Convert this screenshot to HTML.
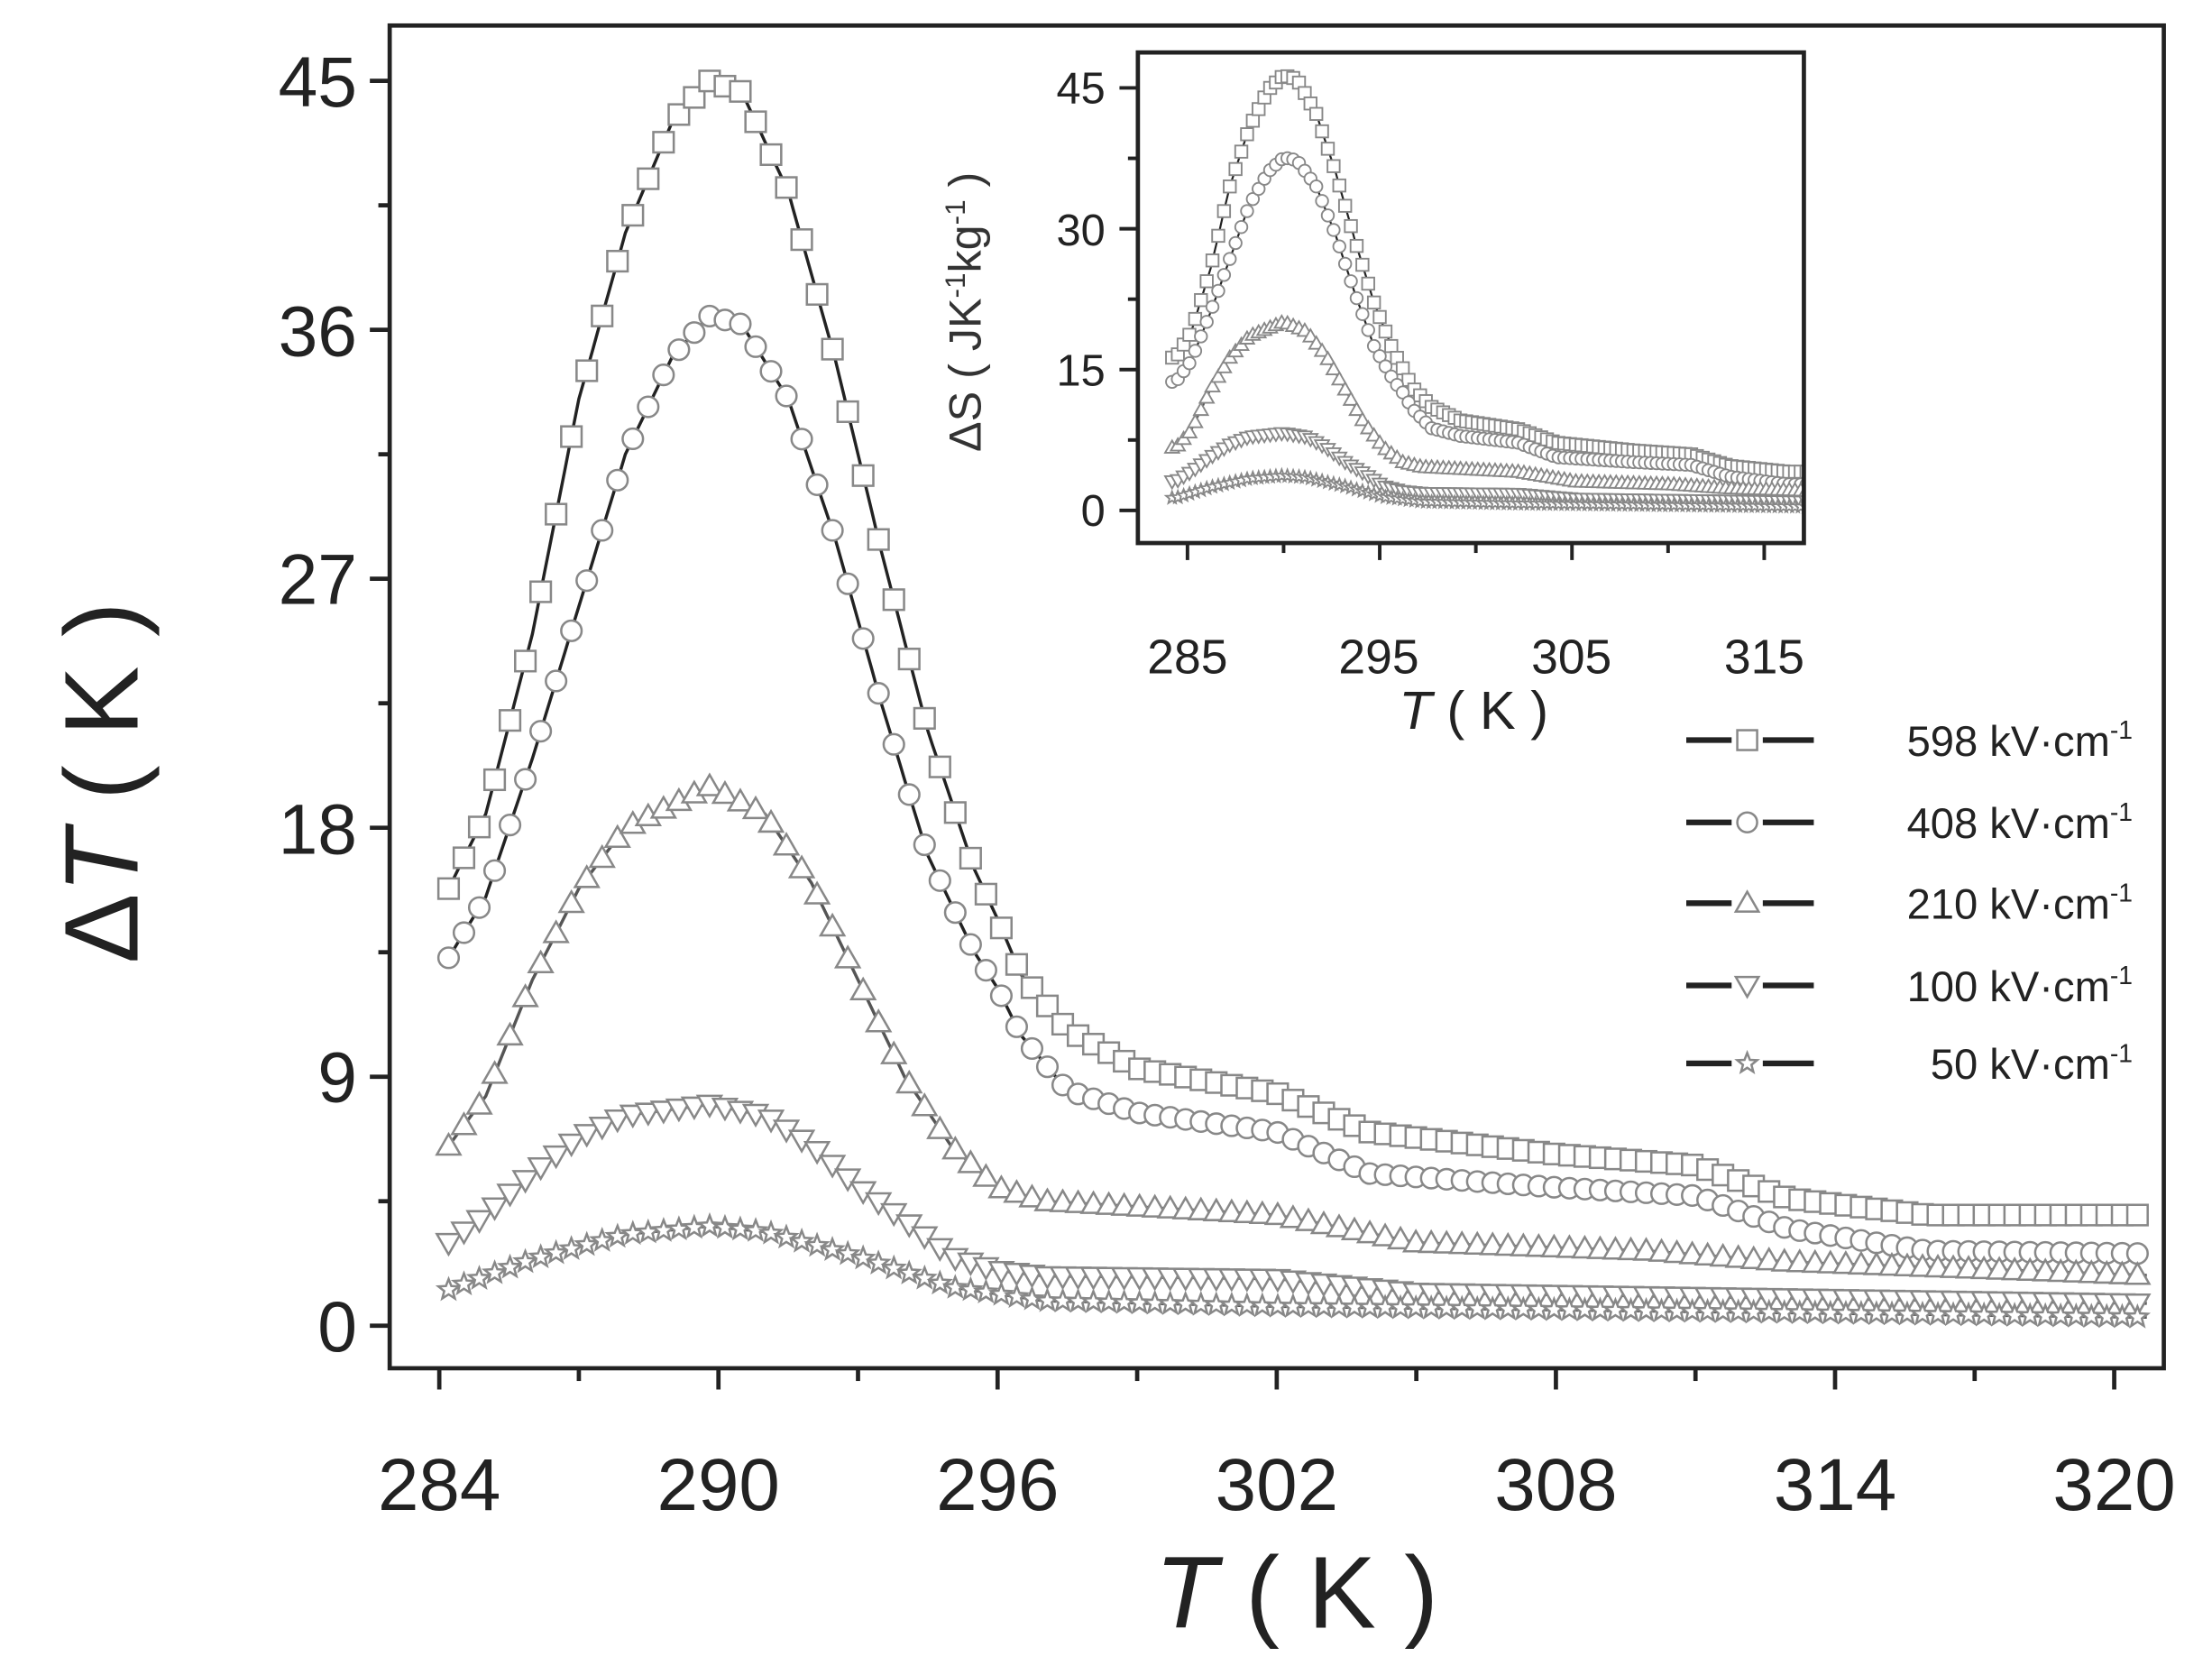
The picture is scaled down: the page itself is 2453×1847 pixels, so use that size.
<!DOCTYPE html>
<html><head><meta charset="utf-8"><style>
html,body{margin:0;padding:0;background:#fff;}
svg{display:block;}
text{font-family:"Liberation Sans",Arial,sans-serif;}
</style></head><body>
<svg id="s" xmlns="http://www.w3.org/2000/svg" width="2453" height="1847" viewBox="0 0 1561 1175" preserveAspectRatio="none">
<rect x="0" y="0" width="1561" height="1175" fill="#fff"/>
<g id="main"></g>
<rect x="275" y="18" width="1252" height="947" fill="none" stroke="#222" stroke-width="3"/>
<g font-size="50" fill="#222" text-anchor="end">
<text x="252" y="75">45</text><text x="252" y="251">36</text><text x="252" y="426">27</text>
<text x="252" y="602">18</text><text x="252" y="777">9</text><text x="252" y="953">0</text>
</g>
<g font-size="52" fill="#222" text-anchor="middle">
<text x="310" y="1065">284</text><text x="507" y="1065">290</text><text x="704" y="1065">296</text>
<text x="901" y="1065">302</text><text x="1098" y="1065">308</text><text x="1295" y="1065">314</text><text x="1492" y="1065">320</text>
</g>
<text x="915" y="1148" font-size="72" fill="#222" text-anchor="middle"><tspan font-style="italic">T</tspan> ( K )</text>
<text transform="translate(97,552) rotate(-90)" font-size="74" fill="#222" text-anchor="middle">Δ<tspan font-style="italic">T</tspan> ( K )</text>
<rect x="803" y="37" width="470" height="346" fill="#fff"/>
<g id="inset"></g>
<rect x="803" y="37" width="470" height="346" fill="none" stroke="#222" stroke-width="3"/>
<g font-size="31" fill="#222" text-anchor="end">
<text x="780" y="73">45</text><text x="780" y="173">30</text><text x="780" y="272">15</text><text x="780" y="371">0</text>
</g>
<g font-size="34" fill="#222" text-anchor="middle">
<text x="838" y="475">285</text><text x="973" y="475">295</text><text x="1109" y="475">305</text><text x="1245" y="475">315</text>
</g>
<text x="1040" y="514" font-size="38" fill="#222" text-anchor="middle"><tspan font-style="italic">T</tspan> ( K )</text>
<text transform="translate(692,220) rotate(-90)" font-size="32" fill="#333" text-anchor="middle">ΔS ( JK<tspan dy="-11" font-size="20">-1</tspan><tspan dy="11">kg</tspan><tspan dy="-11" font-size="20">-1</tspan><tspan dy="11"> )</tspan></text>
<g id="legend"></g>
</svg>
<script>
var NS="http://www.w3.org/2000/svg";
function el(p,t,a){var e=document.createElementNS(NS,t);for(var k in a)e.setAttribute(k,a[k]);p.appendChild(e);return e;}
function interp(pts,x){if(x<=pts[0][0])return pts[0][1];for(var i=1;i<pts.length;i++){if(x<=pts[i][0]){var a=pts[i-1],b=pts[i];return a[1]+(b[1]-a[1])*(x-a[0])/(b[0]-a[0]);}}return pts[pts.length-1][1];}
var S=[
{m:'sq',p:[[284.2,15.8],[285,18.5],[286,25],[287,33.5],[288,39.5],[289,43.5],[289.8,45],[290.5,44.6],[291.5,41],[292.5,35],[293.5,28],[294.5,21.5],[295.5,16.5],[296,14.7],[296.5,12.7],[297.5,10.7],[299,9.3],[302,8.4],[304,7],[308,6.2],[311,5.8],[313,4.6],[316,4],[321,4]]},
{m:'ci',p:[[284.2,13.3],[285,15.5],[286,20.5],[287,26],[288,31.5],[289,35],[289.8,36.5],[290.5,36.2],[291.5,33.5],[292.5,28.5],[293.5,22.5],[294.5,17],[295.5,13.5],[296,12.2],[296.5,10.5],[297.5,8.5],[299,7.7],[302,7],[304,5.5],[308,5],[311,4.7],[313,3.5],[316,2.7],[321,2.6]]},
{m:'tu',p:[[284.2,6.5],[285,8.3],[286,12.5],[287,15.8],[288,18],[289.8,19.5],[291,18.5],[292,16],[293,12.5],[294,9],[295,6.5],[296,5],[297,4.5],[302,4],[305,3],[310,2.7],[313,2.3],[321,1.8]]},
{m:'td',p:[[284.2,3],[285,4],[286,5.5],[287,6.8],[288,7.6],[289.8,8],[291,7.6],[292,6.5],[293,5],[294,3.8],[295,2.5],[296,2],[297,1.8],[302,1.7],[305,1.2],[321,0.8]]},
{m:'st',p:[[284.2,1.3],[286,2.4],[288,3.3],[289.8,3.6],[291,3.4],[293,2.5],[295,1.4],[297,0.9],[302,0.7],[321,0.3]]}
];
function marker(g,m,x,y,r,sw){
 var a={fill:'#fff',stroke:'#888','stroke-width':sw};
 if(m=='sq'){a.x=x-r;a.y=y-r;a.width=2*r;a.height=2*r;el(g,'rect',a);}
 else if(m=='ci'){a.cx=x;a.cy=y;a.r=r;el(g,'circle',a);}
 else if(m=='tu'){a.points=(x)+','+(y-r*1.15)+' '+(x-r*1.15)+','+(y+r*0.85)+' '+(x+r*1.15)+','+(y+r*0.85);el(g,'polygon',a);}
 else if(m=='td'){a.points=(x)+','+(y+r*1.15)+' '+(x-r*1.15)+','+(y-r*0.85)+' '+(x+r*1.15)+','+(y-r*0.85);el(g,'polygon',a);}
 else {var p=[];for(var i=0;i<10;i++){var rr=i%2?r*0.45:r*1.05;var an=-Math.PI/2+i*Math.PI/5;p.push((x+rr*Math.cos(an)).toFixed(1)+','+(y+rr*Math.sin(an)).toFixed(1));}a.points=p.join(' ');el(g,'polygon',a);}
}
function draw(g,X,Y,x0,x1,step,r,sw,lw,scale,shift){
 S.forEach(function(s,k){
  var d='';for(var t=x0;t<=x1;t+=0.1){var v=interp(s.p,t-shift)*scale;d+=(d?'L':'M')+X(t).toFixed(1)+','+Y(v).toFixed(1);}
  el(g,'path',{d:d,fill:'none',stroke:k<2?'#222':'#555','stroke-width':lw});
 });
 S.forEach(function(s){
  for(var t=x0;t<=x1+0.001;t+=step){var v=interp(s.p,t-shift)*scale;marker(g,s.m,X(t),Y(v),r,sw);}
 });
}
var main=document.getElementById('main');
var MX=function(t){return 310+(t-284)*197/6;},MY=function(v){return 935-v*878/45;};
for(var v=0;v<=45;v+=4.5){el(main,'line',{x1:v%9==0?261:267,x2:275,y1:MY(v),y2:MY(v),stroke:'#222','stroke-width':3});}
for(var t=284;t<=320;t+=3){el(main,'line',{x1:MX(t),x2:MX(t),y1:965,y2:(t-284)%6==0?980:974,stroke:'#222','stroke-width':3});}
var cm=el(main,'g',{});
draw(cm,MX,MY,284.2,320.8,0.33,7.2,1.6,2.2,1,0);
var ins=document.getElementById('inset');
var IX=function(t){return 838+(t-285)*407/30;},IY=function(v){return 360-v*298/45;};
var cp=el(ins,'clipPath',{id:'ic'});el(cp,'rect',{x:803,y:37,width:470,height:346});
var ci=el(ins,'g',{'clip-path':'url(#ic)'});
draw(ci,IX,IY,284.2,318,0.3,4.3,1.2,1.4,1.03,0.2);
for(var v=0;v<=45;v+=7.5){el(document.getElementById('s'),'line',{x1:v%15==0?790:796,x2:803,y1:IY(v),y2:IY(v),stroke:'#222','stroke-width':2.5});}
for(var t=285;t<=315;t+=5){el(document.getElementById('s'),'line',{x1:IX(t),x2:IX(t),y1:383,y2:(t-285)%10==0?395:390,stroke:'#222','stroke-width':2.5});}
var lg=document.getElementById('legend');
var labs=['598','408','210','100','50'],ys=[522,580,637,695,750];
S.forEach(function(s,i){
 el(lg,'line',{x1:1190,x2:1222,y1:ys[i],y2:ys[i],stroke:'#222','stroke-width':4});
 el(lg,'line',{x1:1244,x2:1280,y1:ys[i],y2:ys[i],stroke:'#222','stroke-width':4});
 marker(lg,s.m,1233,ys[i],7,1.6);
 var tx=el(lg,'text',{x:1505,y:ys[i]+11,'font-size':30,fill:'#222','text-anchor':'end'});
 tx.textContent=labs[i]+' kV·cm';
 var sp=el(tx,'tspan',{dy:-12,'font-size':18});sp.textContent='-1';
});
</script>
</body></html>
